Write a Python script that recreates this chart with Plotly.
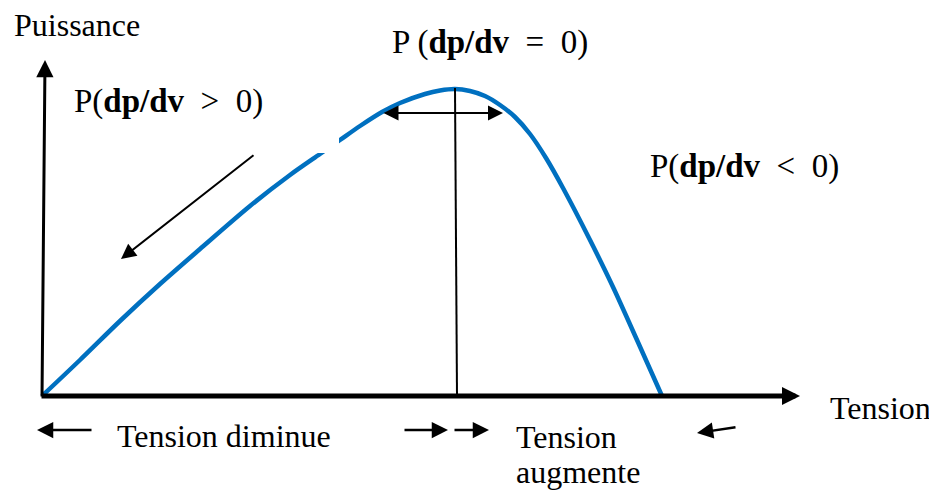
import plotly.graph_objects as go

# Curve P(V) (arbitrary units: tension to the right, puissance upward)
tension = [0, 38, 78, 118, 158, 208, 248, 278, 298, 318, 340, 358, 383, 398, 413,
           428, 443, 458, 473, 488, 504, 521, 548, 571, 595, 620]
puissance = [0, 36, 75, 112, 147, 190, 221, 242, 256, 270, 284, 293, 302, 305.5, 307,
             305, 300, 291, 279, 262, 238, 208, 156, 109, 56, 0]

# Key positions (same units)
v_mpp = 413          # tension at maximum power point
p_mpp = 308          # maximum power
axis_v_end = 758     # end of tension axis arrow
axis_p_end = 336     # end of power axis arrow

FONT = "Liberation Serif"
BLUE = "#0070C0"

fig = go.Figure()
fig.add_trace(go.Scatter(x=tension, y=puissance, mode="lines",
                         line=dict(color=BLUE, width=4.5, shape="spline", smoothing=0.8),
                         hoverinfo="skip"))

shapes = [
    # vertical line at MPP
    dict(type="line", x0=v_mpp, x1=v_mpp + 2, y0=p_mpp, y1=0, line=dict(color="black", width=2)),
    # white mask hiding part of the curve
    dict(type="rect", x0=180, x1=297, y0=243, y1=276, fillcolor="white", line=dict(width=0), layer="above"),
]

def arrow(x_tip, y_tip, x_tail, y_tail, width, size, side="end"):
    return dict(x=x_tip, y=y_tip, ax=x_tail, ay=y_tail, xref="x", yref="y", axref="x", ayref="y",
                text="", showarrow=True, arrowhead=2, startarrowhead=2, arrowside=side,
                arrowwidth=width, arrowsize=size, startarrowsize=size, arrowcolor="black",
                standoff=0, startstandoff=0)

annotations = [
    arrow(axis_v_end, 0, -2, 0, 5, 0.72),           # tension axis
    arrow(3, axis_p_end, 0, -2, 3, 1.15),           # power axis
    arrow(461, 283, 340, 283, 2, 1.5, "end+start"),  # double arrow at MPP
    arrow(79, 137, 213, 242, 2, 1.5),               # diagonal arrow
    arrow(-5, -34, 51, -34, 2.5, 1.3),              # bottom-left arrow
    arrow(406, -34, 361, -34, 2.5, 1.3),
    arrow(447, -34, 411, -34, 2.5, 1.3),
    arrow(655, -37, 695, -31, 2.5, 1.3),
]

def label(txt, x, y, size=32):
    return dict(x=x, y=y, xref="x", yref="y", text=txt, showarrow=False,
                xanchor="left", yanchor="middle",
                font=dict(family=FONT, size=size, color="black"))

NB = "\u00a0"
annotations += [
    label("Puissance", -30, 371, 32),
    label(f"P (<b>dp/dv</b>{NB}{NB}={NB}{NB}0)", 348, 354, 33),
    label(f"P(<b>dp/dv</b>{NB}{NB}&gt;{NB}{NB}0)", 30, 295, 33),
    label(f"P(<b>dp/dv</b>{NB}{NB}&lt;{NB}{NB}0)", 606, 230, 33),
    label("Tension", 786, -12),
    label("Tension diminue", 73, -40),
    label("Tension", 472, -41),
    label("augmente", 472, -76),
]

fig.update_layout(
    width=937, height=494,
    margin=dict(l=0, r=0, t=0, b=0),
    paper_bgcolor="white", plot_bgcolor="white",
    showlegend=False,
    xaxis=dict(range=[-34, 903], visible=False, fixedrange=True),
    yaxis=dict(range=[-106, 388], visible=False, fixedrange=True),
    shapes=shapes, annotations=annotations,
)

fig.write_html("out.html")
